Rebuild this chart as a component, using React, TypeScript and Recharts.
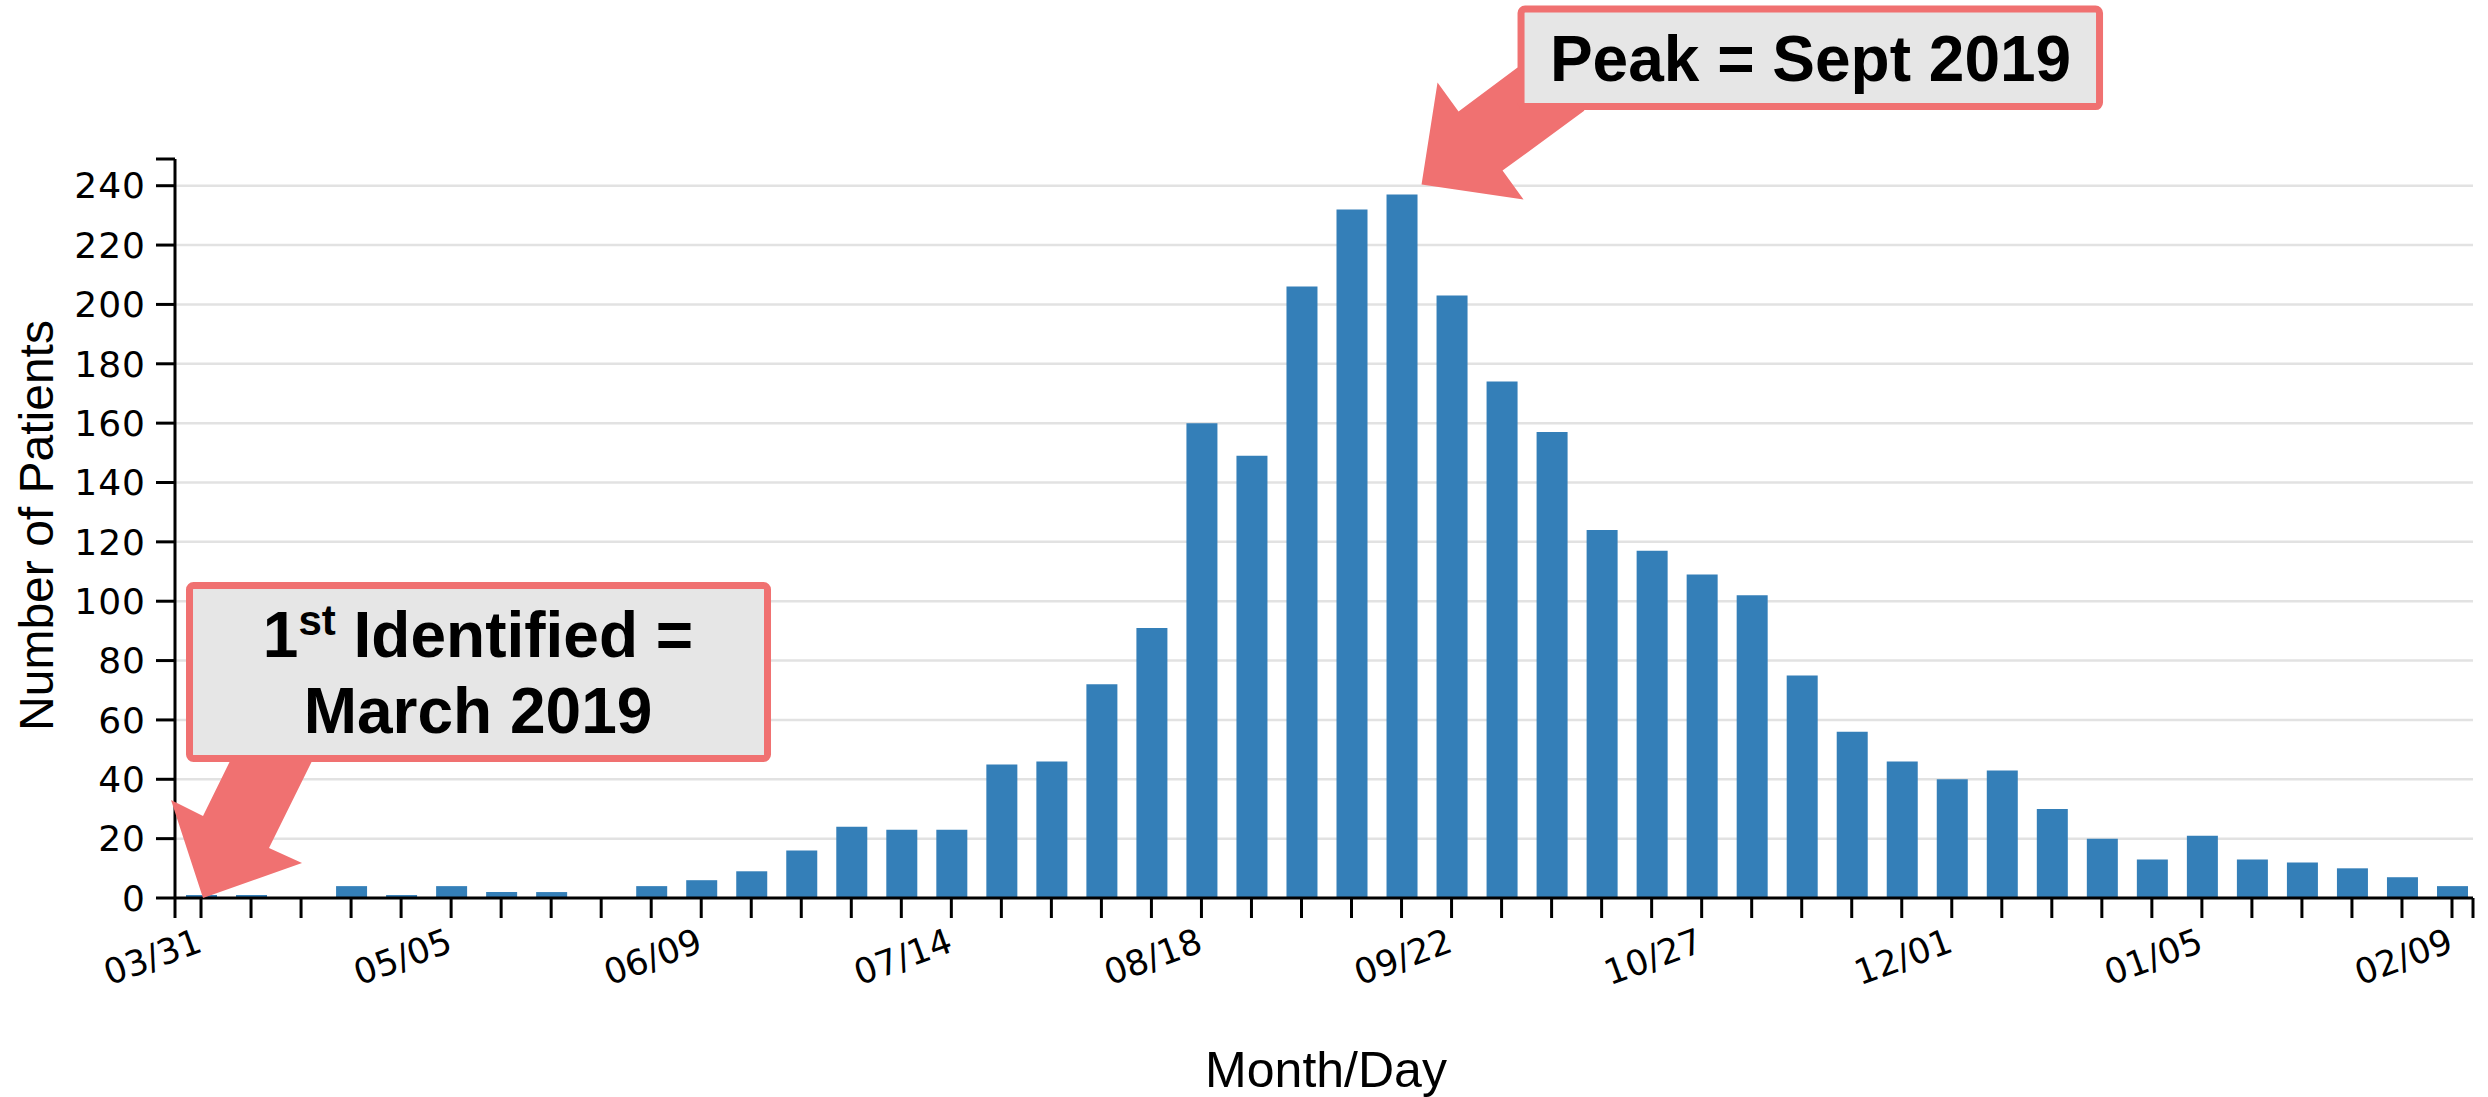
import { BarChart, Bar, XAxis, YAxis, CartesianGrid, ReferenceDot, Label } from "recharts";

// weekly counts, week starting 03/31/2019
const weeks = [
  "03/31", "04/07", "04/14", "04/21", "04/28", "05/05", "05/12", "05/19", "05/26", "06/02",
  "06/09", "06/16", "06/23", "06/30", "07/07", "07/14", "07/21", "07/28", "08/04", "08/11",
  "08/18", "08/25", "09/01", "09/08", "09/15", "09/22", "09/29", "10/06", "10/13", "10/20",
  "10/27", "11/03", "11/10", "11/17", "11/24", "12/01", "12/08", "12/15", "12/22", "12/29",
  "01/05", "01/12", "01/19", "01/26", "02/02", "02/09",
];

const patients = [
  1, 1, 0, 4, 1, 4, 2, 2, 0, 4,
  6, 9, 16, 24, 23, 23, 45, 46, 72, 91,
  160, 149, 206, 232, 237, 203, 174, 157, 124, 117,
  109, 102, 75, 56, 46, 40, 43, 30, 20, 13,
  21, 13, 12, 10, 7, 4,
];

const labeledWeeks = ["03/31", "05/05", "06/09", "07/14", "08/18", "09/22", "10/27", "12/01", "01/05", "02/09"];
const yTicks = [0, 20, 40, 60, 80, 100, 120, 140, 160, 180, 200, 220, 240];

const FIRST_WEEK = 0;
const PEAK_WEEK = 24;

const BAR = "#347fb8";
const CALLOUT = "#f07171";
const BOX = "#e6e6e6";

const X_DOMAIN: [number, number] = [-0.52, 45.42];
const Y_DOMAIN: [number, number] = [0, 249];

const data = weeks.map((w, i) => ({ idx: i, week: w, patients: patients[i] }));
// tick marks at every week, plus d3-style outer ticks at domain ends
const xTicks = [X_DOMAIN[0], ...weeks.map((_, i) => i), X_DOMAIN[1]];
const yAxisTicks = [...yTicks, Y_DOMAIN[1]];

function WeekTick({ x, y, payload }: any) {
  const w = weeks[payload.value];
  if (!Number.isInteger(payload.value) || !labeledWeeks.includes(w)) return <g />;
  const ty = y + 31;
  return (
    <text
      x={x + 3}
      y={ty}
      textAnchor="end"
      transform={`rotate(-20, ${x + 3}, ${ty})`}
      fontFamily="DejaVu Sans"
      fontSize={35}
      fill="#000"
    >
      {w}
    </text>
  );
}

function pts(cx: number, cy: number, offs: number[][]) {
  return offs.map(([dx, dy]) => `${cx + dx},${cy + dy}`).join(" ");
}

function FirstCallout({ cx, cy }: any) {
  const arrow = [[29, -134], [2, -79], [-30, -95], [2, 3], [101, -32], [68, -47], [111, -134]];
  return (
    <g>
      <polygon points={pts(cx, cy, arrow)} fill={CALLOUT} />
      <rect x={cx - 11.5} y={cy - 309.5} width={578} height={173} rx={4} fill={BOX} stroke={CALLOUT} strokeWidth={7} />
      <text x={cx + 277} y={cy - 238} textAnchor="middle" fontFamily="Liberation Sans" fontWeight="bold" fontSize={64} fill="#000">
        1<tspan fontSize={42} dy={-22}>st</tspan>
        <tspan dy={22}> Identified =</tspan>
      </text>
      <text x={cx + 277} y={cy - 162} textAnchor="middle" fontFamily="Liberation Sans" fontWeight="bold" fontSize={64} fill="#000">
        March 2019
      </text>
    </g>
  );
}

function PeakCallout({ cx, cy }: any) {
  const arrow = [[116, -127], [57, -83], [36, -112], [20, -10], [122, 5], [101, -24], [183, -84]];
  return (
    <g>
      <polygon points={pts(cx, cy, arrow)} fill={CALLOUT} />
      <rect x={cx + 119.5} y={cy - 185.5} width={578.5} height={97.5} rx={4} fill={BOX} stroke={CALLOUT} strokeWidth={7} />
      <text x={cx + 409} y={cy - 114} textAnchor="middle" fontFamily="Liberation Sans" fontWeight="bold" fontSize={64} fill="#000">
        Peak = Sept 2019
      </text>
    </g>
  );
}

export default function App() {
  return (
    <div style={{ position: "absolute", left: 0, top: 0, width: 2488, height: 1097, background: "#fff" }}>
      <BarChart width={2488} height={1097} data={data} margin={{ top: 159, right: 15, bottom: 0, left: 0 }}>
        <CartesianGrid vertical={false} horizontalValues={yTicks.slice(1)} stroke="#e2e2e2" strokeWidth={2.5} />
        <XAxis
          dataKey="idx"
          type="number"
          domain={X_DOMAIN}
          ticks={xTicks}
          interval={0}
          height={199}
          tickSize={20}
          tick={<WeekTick />}
          tickLine={{ stroke: "#000", strokeWidth: 3 }}
          axisLine={{ stroke: "#000", strokeWidth: 3 }}
        >
          <Label
            content={({ viewBox }: any) => (
              <text
                x={viewBox.x + viewBox.width / 2 + 2}
                y={viewBox.y + viewBox.height - 10}
                textAnchor="middle"
                fontFamily="Liberation Sans"
                fontSize={50}
                fill="#000"
              >
                Month/Day
              </text>
            )}
          />
        </XAxis>
        <YAxis
          type="number"
          domain={Y_DOMAIN}
          ticks={yAxisTicks}
          interval={0}
          width={175}
          tickSize={19}
          tickMargin={10}
          tickFormatter={(v: number) => (yTicks.includes(v) ? String(v) : "")}
          tick={{ fontFamily: "DejaVu Sans", fontSize: 36, fill: "#000", letterSpacing: 1 }}
          tickLine={{ stroke: "#000", strokeWidth: 3 }}
          axisLine={{ stroke: "#000", strokeWidth: 3 }}
        >
          <Label
            content={({ viewBox }: any) => {
              const x = viewBox.x + 53;
              const y = viewBox.y + viewBox.height / 2 - 3;
              return (
                <text
                  x={x}
                  y={y}
                  textAnchor="middle"
                  transform={`rotate(-90, ${x}, ${y})`}
                  fontFamily="Liberation Sans"
                  fontSize={48}
                  fill="#000"
                >
                  Number of Patients
                </text>
              );
            }}
          />
        </YAxis>
        <Bar dataKey="patients" fill={BAR} barSize={31} isAnimationActive={false} />
        <ReferenceDot
          x={FIRST_WEEK}
          y={patients[FIRST_WEEK]}
          r={0}
          ifOverflow="visible"
          shape={(p: any) => <FirstCallout cx={p.cx} cy={p.cy} />}
        />
        <ReferenceDot
          x={PEAK_WEEK}
          y={patients[PEAK_WEEK]}
          r={0}
          ifOverflow="visible"
          shape={(p: any) => <PeakCallout cx={p.cx} cy={p.cy} />}
        />
      </BarChart>
    </div>
  );
}
